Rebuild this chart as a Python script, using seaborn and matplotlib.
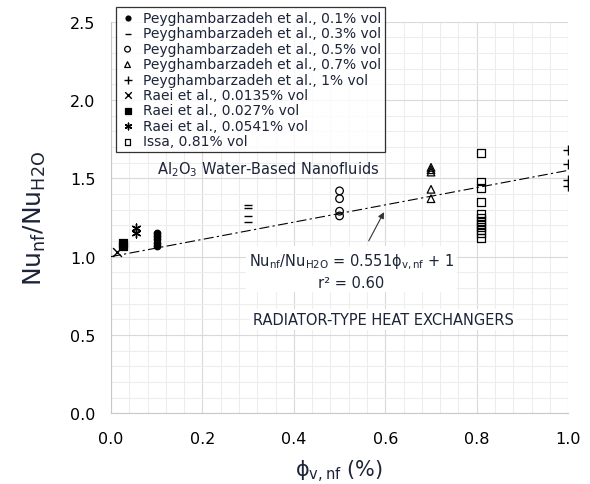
import matplotlib
matplotlib.use('Agg')
import matplotlib.pyplot as plt
from matplotlib.ticker import MultipleLocator
import seaborn as sns
import pandas as pd

# data (x = volume fraction %, y = Nu_nf/Nu_H2O)
p01_x = [0.1, 0.1, 0.1, 0.1, 0.1]
p01_y = [1.07, 1.09, 1.11, 1.13, 1.15]
p03_x = [0.3, 0.3, 0.3, 0.3]
p03_y = [1.33, 1.31, 1.26, 1.22]
p05_x = [0.5, 0.5, 0.5, 0.5]
p05_y = [1.42, 1.37, 1.29, 1.26]
p07_x = [0.7, 0.7, 0.7, 0.7, 0.7]
p07_y = [1.57, 1.555, 1.54, 1.43, 1.37]
p10_x = [1.0, 1.0, 1.0, 1.0]
p10_y = [1.68, 1.59, 1.49, 1.45]
r0135_x = [0.0135]
r0135_y = [1.03]
r027_x = [0.027, 0.027]
r027_y = [1.07, 1.09]
r0541_x = [0.0541, 0.0541]
r0541_y = [1.15, 1.18]
issa_x = [0.81] * 12
issa_y = [1.66, 1.48, 1.44, 1.35, 1.27, 1.25, 1.23, 1.21, 1.19, 1.17, 1.15, 1.12]

# fit given on the chart
slope = 0.551
intercept = 1.0
fit_x = [0.0, 1.0]

txt = '#1c2438'

sns.set_style('white')
plt.rcParams['font.family'] = ['DejaVu Sans']

fig, ax = plt.subplots(figsize=(5.9, 4.85), dpi=100)
fig.subplots_adjust(left=0.188, right=0.963, bottom=0.146, top=0.953)

series = [
    ('Peyghambarzadeh et al., 0.1% vol', p01_x, p01_y, 'o', 'black', 22),
    ('Peyghambarzadeh et al., 0.3% vol', p03_x, p03_y, '_', 'black', 40),
    ('Peyghambarzadeh et al., 0.5% vol', p05_x, p05_y, 'o', 'none', 30),
    ('Peyghambarzadeh et al., 0.7% vol', p07_x, p07_y, '^', 'none', 30),
    ('Peyghambarzadeh et al., 1% vol', p10_x, p10_y, '+', 'black', 55),
    ('Raei et al., 0.0135% vol', r0135_x, r0135_y, 'x', 'black', 40),
    ('Raei et al., 0.027% vol', r027_x, r027_y, 's', 'black', 32),
    ('Raei et al., 0.0541% vol', r0541_x, r0541_y, (6, 2, 0), 'black', 40),
    ('Issa, 0.81% vol', issa_x, issa_y, 's', 'none', 32),
]

for label, xs, ys, mk, fc, sz in series:
    df = pd.DataFrame({'x': xs, 'y': ys})
    if mk in ('_', '+', 'x') or isinstance(mk, tuple):
        sns.scatterplot(data=df, x='x', y='y', marker=mk, color='black',
                        s=sz, linewidth=1.0, label=label, ax=ax, zorder=4)
    else:
        sns.scatterplot(data=df, x='x', y='y', marker=mk, facecolor=fc,
                        edgecolor='black', s=sz, linewidth=0.9,
                        label=label, ax=ax, zorder=4)

fit_df = pd.DataFrame({'x': fit_x, 'y': [slope * v + intercept for v in fit_x]})
sns.lineplot(data=fit_df, x='x', y='y', color='black', linewidth=0.8,
             ax=ax, zorder=3, legend=False)
ax.lines[-1].set_dashes([9, 3, 2, 3])

ax.set_xlim(0, 1.0)
ax.set_ylim(0, 2.5)
ax.xaxis.set_major_locator(MultipleLocator(0.2))
ax.xaxis.set_minor_locator(MultipleLocator(0.04))
ax.yaxis.set_major_locator(MultipleLocator(0.5))
ax.yaxis.set_minor_locator(MultipleLocator(0.1))
ax.set_xticklabels([f'{v:.1f}' for v in ax.get_xticks()])
ax.set_yticklabels([f'{v:.1f}' for v in ax.get_yticks()])
ax.grid(which='major', color='#d9d9d9', linewidth=0.8)
ax.grid(which='minor', color='#ededed', linewidth=0.8)
ax.set_axisbelow(True)

for side in ('top', 'right'):
    ax.spines[side].set_visible(False)
for side in ('left', 'bottom'):
    ax.spines[side].set_color('#c8c8c8')
ax.tick_params(which='major', direction='out', length=5, color='#c8c8c8',
               labelsize=11.5, labelcolor='black', pad=6)
ax.tick_params(which='minor', length=0)
ax.tick_params(axis='x', pad=8)

ax.set_xlabel('ϕ$_{\\mathrm{v,nf}}$ (%)', fontsize=15, color=txt, labelpad=8)
ax.set_ylabel('Nu$_{\\mathrm{nf}}$/Nu$_{\\mathrm{H2O}}$', fontsize=18,
              color=txt, labelpad=16)

leg = ax.legend(loc='upper left', bbox_to_anchor=(0.012, 1.038), fontsize=10,
                frameon=True, fancybox=False, edgecolor='black',
                labelspacing=0.1, handlelength=1.0, handletextpad=0.6,
                borderpad=0.3, borderaxespad=0, markerscale=0.75)
leg.get_frame().set_linewidth(0.9)
for t in leg.get_texts():
    t.set_color(txt)

ax.text(0.10, 1.56, 'Al$_2$O$_3$ Water-Based Nanofluids', fontsize=10.5,
        color=txt, va='center', ha='left', zorder=5)

ax.annotate('', xy=(0.6, 1.30), xytext=(0.561, 1.085),
            arrowprops=dict(arrowstyle='-|>', color='#333333', lw=0.8,
                            mutation_scale=9), zorder=5)
ax.text(0.526, 0.91,
        'Nu$_{\\mathrm{nf}}$/Nu$_{\\mathrm{H2O}}$ = 0.551ϕ$_{\\mathrm{v,nf}}$ + 1\nr² = 0.60',
        fontsize=10.5, color=txt, ha='center', va='center', linespacing=1.3,
        bbox=dict(facecolor='white', edgecolor='none', pad=2), zorder=5)
ax.text(0.31, 0.597, 'RADIATOR-TYPE HEAT EXCHANGERS', fontsize=10.5,
        color=txt, ha='left', va='center',
        bbox=dict(facecolor='white', edgecolor='none', pad=2), zorder=5)

fig.savefig('out.png', dpi=100)
